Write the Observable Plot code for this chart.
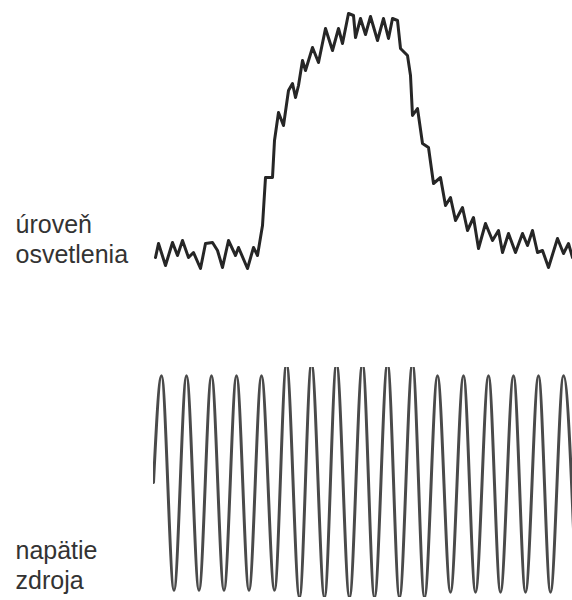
<!DOCTYPE html>
<html>
<head>
<meta charset="utf-8">
<script src="https://cdn.jsdelivr.net/npm/d3@7"></script>
<script src="https://cdn.jsdelivr.net/npm/@observablehq/plot@0.6"></script>
<style>
  html, body { margin: 0; padding: 0; background: #fff; }
  #chart { width: 572px; height: 600px; }
  #chart svg { display: block; }
</style>
</head>
<body>
<div id="chart"></div>
<script>
// ---- Data ----
// Light level trace: time in ms, level in arbitrary units
const lightTime = [1.6, 4.0, 9.6, 15.2, 19.2, 23.2, 28.0, 32.0, 37.6, 41.6, 47.2, 51.2, 55.2, 60.0, 65.6, 68.0, 75.2, 80.0, 83.2, 87.2, 89.6, 95.2, 96.8, 100.0, 104.0, 108.0, 111.2, 113.6, 116.0, 119.2, 121.6, 127.2, 132.0, 137.6, 143.2, 148.0, 151.2, 156.0, 160.0, 161.6, 165.6, 169.6, 173.6, 179.2, 184.0, 188.0, 191.2, 195.2, 197.6, 203.2, 205.6, 207.2, 211.2, 215.2, 220.0, 224.0, 229.6, 233.6, 237.6, 241.6, 247.2, 251.2, 256.0, 260.0, 265.6, 271.2, 276.0, 279.2, 284.0, 289.6, 295.2, 299.2, 303.2, 307.2, 311.2, 316.0, 323.2, 328.0, 332.0, 335.2];
const lightLevel = [5.2, 10.8, 2.0, 11.2, 6.0, 12.0, 5.2, 7.2, 0.8, 10.8, 11.2, 8.0, 1.2, 12.0, 6.0, 9.2, 0.8, 9.2, 6.0, 18.0, 37.2, 37.2, 52.0, 63.2, 58.0, 72.0, 74.8, 69.2, 74.0, 84.0, 80.0, 89.2, 83.2, 96.8, 88.0, 96.8, 90.8, 102.8, 102.0, 93.2, 100.8, 94.4, 101.6, 92.0, 100.8, 92.8, 100.8, 100.0, 88.8, 86.0, 78.0, 62.0, 64.8, 50.8, 49.2, 34.8, 37.2, 26.0, 29.2, 20.0, 25.2, 16.0, 21.2, 8.8, 18.8, 12.0, 16.0, 7.2, 14.8, 7.2, 14.8, 10.0, 16.0, 7.2, 8.0, 1.2, 12.8, 6.8, 10.8, 5.2];

// Supply voltage: extrema (time in ms, volts)
const voltTime = [0, 6.4, 16.4, 26.4, 36.4, 46.4, 56.4, 66.4, 76.4, 86.4, 96.8, 106.4, 116.8, 126.4, 136.8, 146.4, 156.8, 167.2, 176.8, 187.2, 196.8, 207.2, 216.8, 227.2, 237.6, 248.0, 257.6, 268.0, 277.6, 288.0, 297.6, 308.0, 317.6, 328.0, 338.0];
const voltValue = [0, 325, -328, 325, -328, 325, -328, 325, -328, 325, -328, 362, -350, 362, -350, 362, -350, 362, -350, 362, -350, 362, -350, 325, -334, 325, -334, 325, -334, 325, -334, 325, -334, 325, -334];

const labelTop = "úroveň\nosvetlenia";
const labelBottom = "napätie\nzdroja";

// ---- Build tables ----
const light = lightTime.map((t, i) => ({t, v: lightLevel[i]}));
const volt = voltTime.map((t, i) => ({t, v: voltValue[i]}));

const W = 572;
const xDomain = [0, 335.2];
const font = "'Liberation Sans', Arial, sans-serif";

const topPlot = Plot.plot({
  width: W,
  height: 290,
  marginLeft: 153,
  marginRight: 0,
  marginTop: 20,
  marginBottom: 20,
  style: {fontFamily: font, background: "#fff", overflow: "visible"},
  x: {domain: xDomain, axis: null},
  y: {domain: [0, 100], axis: null},
  marks: [
    Plot.line(light, {x: "t", y: "v", stroke: "#262626", strokeWidth: 3, strokeLinejoin: "round", strokeLinecap: "round"}),
    Plot.text([labelTop], {
      frameAnchor: "top-left", text: d => d, textAnchor: "start", lineAnchor: "top",
      dx: -138, dy: 191, fontSize: 25, lineHeight: 1.2, fill: "#333"
    })
  ]
});

const bottomPlot = Plot.plot({
  width: W,
  height: 310,
  marginLeft: 153,
  marginRight: 0,
  marginTop: 77,
  marginBottom: 3,
  style: {fontFamily: font, background: "#fff", overflow: "visible"},
  x: {domain: xDomain, axis: null},
  y: {domain: [-350, 350], axis: null},
  marks: [
    Plot.line(volt, {x: "t", y: "v", curve: "monotone-x", stroke: "#4a4a4a", strokeWidth: 3, clip: true}),
    Plot.text([labelBottom], {
      frameAnchor: "top-left", text: d => d, textAnchor: "start", lineAnchor: "top",
      dx: -138, dy: 170, fontSize: 25, lineHeight: 1.2, fill: "#333"
    })
  ]
});

const el = document.getElementById("chart");
el.appendChild(topPlot);
el.appendChild(bottomPlot);
</script>
</body>
</html>
